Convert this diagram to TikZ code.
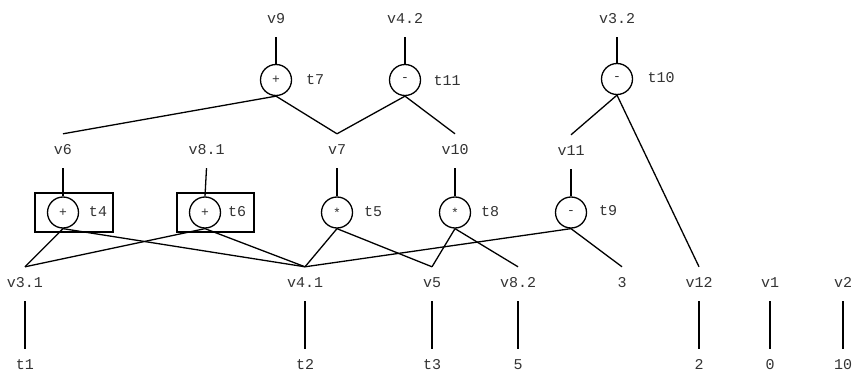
\documentclass[tikz,border=0pt]{standalone}
\usepackage{fontspec}
\newfontfamily\cour{Liberation Mono}
\begin{document}
\begin{tikzpicture}[x=1pt,y=-1pt,
  lbl/.style={font=\cour\fontsize{15}{18}\selectfont, text=black!80, inner sep=0pt, text height=10pt, text depth=3pt, minimum height=34pt},
  tag/.style={font=\cour\fontsize{15}{18}\selectfont, text=black!80, inner sep=0pt},
  op/.style={circle, draw, line width=1.3pt, minimum size=31pt, inner sep=0pt, text=black!80, font=\cour\fontsize{13}{15}\selectfont},
  grp/.style={draw, line width=1.3pt, minimum height=39pt, inner sep=0pt},
  edge/.style={line width=1.3pt}]
\useasboundingbox (0,0) rectangle (858,371);
% top labels
\node[lbl] (v9) at (276,20) {v9};
\node[lbl] (v42) at (405,20) {v4.2};
\node[lbl] (v32) at (617,20) {v3.2};
% top operations
\node[op] (t7) at (276,80) {+};
\node[op] (t11) at (405,80) {-};
\node[op] (t10) at (617,79) {-};
\node[tag] (l7) at (315,80) {t7};
\node[tag] (l11) at (447,81) {t11};
\node[tag] (l10) at (661,78) {t10};
% middle labels
\node[lbl] (v6) at (63,151) {v6};
\node[lbl] (v81) at (206.5,151) {v8.1};
\node[lbl] (v7) at (337,151) {v7};
\node[lbl] (v10) at (455,151) {v10};
\node[lbl] (v11) at (571,152) {v11};
% boxes
\node[grp, minimum width=78pt] (b4) at (74,212.5) {};
\node[grp, minimum width=77pt] (b6) at (215.5,212.5) {};
% middle operations
\node[op] (t4) at (63,212.5) {+};
\node[op] (t6) at (205,212.5) {+};
\node[op] (t5) at (337,212.5) {*};
\node[op] (t8) at (455,212.5) {*};
\node[op] (t9) at (571,212.5) {-};
\node[tag] (l4) at (98,212) {t4};
\node[tag] (l6) at (237,212) {t6};
\node[tag] (l5) at (373,212) {t5};
\node[tag] (l8) at (490,212) {t8};
\node[tag] (l9) at (608,211) {t9};
% bottom row labels
\node[lbl] (v31) at (25,284) {v3.1};
\node[lbl] (v41) at (305,284) {v4.1};
\node[lbl] (v5) at (432,284) {v5};
\node[lbl] (v82) at (518,284) {v8.2};
\node[lbl] (c3) at (622,284) {3};
\node[lbl] (v12) at (699,284) {v12};
\node[lbl] (v1) at (770,284) {v1};
\node[lbl] (v2) at (843,284) {v2};
% bottom labels
\node[lbl] (t1) at (25,366) {t1};
\node[lbl] (t2) at (305,366) {t2};
\node[lbl] (t3) at (432,366) {t3};
\node[lbl] (c5) at (518,366) {5};
\node[lbl] (c2) at (699,366) {2};
\node[lbl] (c0) at (770,366) {0};
\node[lbl] (c10) at (843,366) {10};
% edges
\draw[edge] (v9.south) -- (t7.north);
\draw[edge] (v42.south) -- (t11.north);
\draw[edge] (v32.south) -- (t10.north);
\draw[edge] (t7.south) -- (v6.north);
\draw[edge] (t7.south) -- (v7.north);
\draw[edge] (t11.south) -- (v7.north);
\draw[edge] (t11.south) -- (v10.north);
\draw[edge] (t10.south) -- (v11.north);
\draw[edge] (t10.south) -- (v12.north);
\draw[edge] (v6.south) -- (t4.north);
\draw[edge] (v81.south) -- (t6.north);
\draw[edge] (v7.south) -- (t5.north);
\draw[edge] (v10.south) -- (t8.north);
\draw[edge] (v11.south) -- (t9.north);
\draw[edge] (t4.south) -- (v31.north);
\draw[edge] (t4.south) -- (v41.north);
\draw[edge] (t6.south) -- (v31.north);
\draw[edge] (t6.south) -- (v41.north);
\draw[edge] (t5.south) -- (v41.north);
\draw[edge] (t5.south) -- (v5.north);
\draw[edge] (t8.south) -- (v5.north);
\draw[edge] (t8.south) -- (v82.north);
\draw[edge] (t9.south) -- (v41.north);
\draw[edge] (t9.south) -- (c3.north);
\draw[edge] (v31.south) -- (t1.north);
\draw[edge] (v41.south) -- (t2.north);
\draw[edge] (v5.south) -- (t3.north);
\draw[edge] (v82.south) -- (c5.north);
\draw[edge] (v12.south) -- (c2.north);
\draw[edge] (v1.south) -- (c0.north);
\draw[edge] (v2.south) -- (c10.north);
\end{tikzpicture}
\end{document}
